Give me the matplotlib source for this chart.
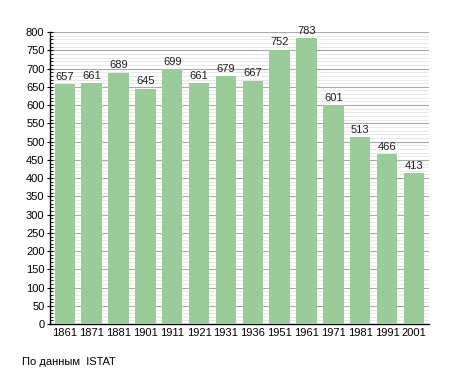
import numpy as np
import matplotlib.pyplot as plt
from matplotlib.ticker import MultipleLocator

plt.rcParams['font.family'] = ['Liberation Sans', 'DejaVu Sans']

years = ["1861", "1871", "1881", "1901", "1911", "1921", "1931",
         "1936", "1951", "1961", "1971", "1981", "1991", "2001"]
population = [657, 661, 689, 645, 699, 661, 679, 667, 752, 783, 601, 513, 466, 413]

fig = plt.figure(figsize=(4.55, 3.73), dpi=100)
ax = fig.add_axes([0.110, 0.131, 0.832, 0.783])

x = np.arange(len(years))
ax.bar(x, population, width=0.76, color='#99cc99', zorder=3)

for xi, v in zip(x, population):
    ax.text(xi, v + 6, str(v), ha='center', va='bottom', fontsize=8,
            color='#222222', zorder=4)

ax.set_xlim(-0.55, len(years) - 0.45)
ax.set_ylim(0, 800)
ax.yaxis.set_major_locator(MultipleLocator(50))
ax.yaxis.set_minor_locator(MultipleLocator(10))
ax.grid(axis='y', which='major', color='#aaaaaa', linewidth=0.8, zorder=1)
ax.grid(axis='y', which='minor', color='#e4e4e4', linewidth=0.6, zorder=0)

ax.set_xticks(x)
ax.set_xticklabels(years)
ax.tick_params(axis='x', length=0, labelsize=8, pad=3)
ax.tick_params(axis='y', which='major', length=4, direction='inout', labelsize=8, pad=2)
ax.tick_params(axis='y', which='minor', length=2, direction='in')

for s in ['top', 'right']:
    ax.spines[s].set_visible(False)
ax.spines['left'].set_linewidth(1.0)
ax.spines['bottom'].set_linewidth(1.0)

fig.text(22 / 455, 1 - 362 / 373, "По данным  ISTAT", fontsize=8, va='center')

fig.savefig('out.png', dpi=100)
